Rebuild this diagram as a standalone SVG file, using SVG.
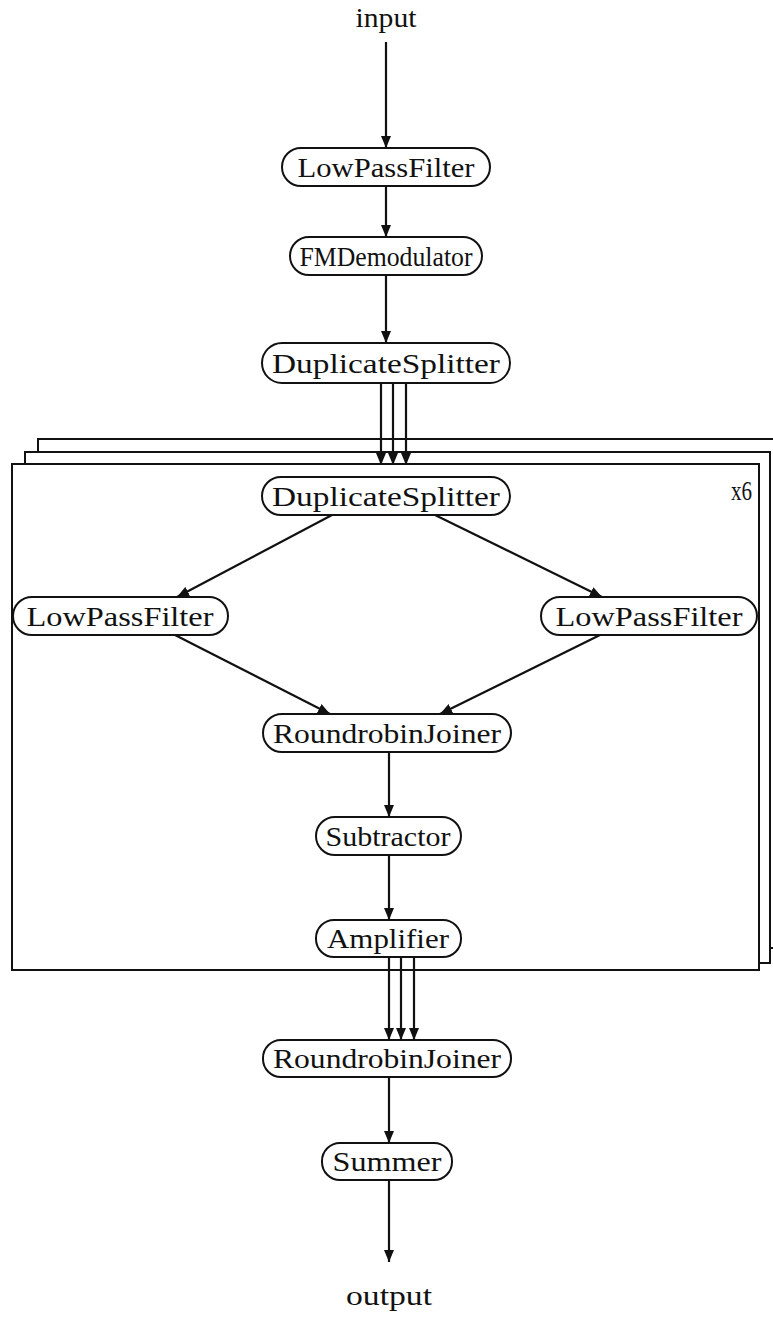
<svg xmlns="http://www.w3.org/2000/svg" width="773" height="1334" viewBox="0 0 773 1334">
<style>
.n{fill:#fff;stroke:#111;stroke-width:2}
.t{font-family:"Liberation Serif","DejaVu Serif",serif;font-size:28px;fill:#111;text-anchor:middle}
.e{stroke:#111;stroke-width:2.2;fill:none;marker-end:url(#ah)}
.f{fill:#fff;stroke:#111;stroke-width:2}
</style>
<defs>
<marker id="ah" viewBox="0 0 12 10" refX="12" refY="5" markerWidth="5.5" markerHeight="4.6" markerUnits="strokeWidth" orient="auto">
<path d="M0,0 L12,5 L0,10 z" fill="#111"/>
</marker>
</defs>
<g id="frames">
<rect class="f" x="38" y="439" width="745" height="509"/>
<rect class="f" x="25" y="452" width="745" height="511"/>
<rect class="f" x="12" y="464" width="747" height="506"/>
<text class="t" x="752" y="500" style="text-anchor:end" textLength="21" lengthAdjust="spacingAndGlyphs">x6</text>
</g>
<g id="connectors">
<line class="e" x1="386" y1="42" x2="386" y2="148"/>
<line class="e" x1="386" y1="186" x2="386" y2="237"/>
<line class="e" x1="386" y1="275" x2="386" y2="343"/>
<line class="e" x1="381" y1="383" x2="381" y2="465"/>
<line class="e" x1="393" y1="383" x2="393" y2="465"/>
<line class="e" x1="406" y1="383" x2="406" y2="465"/>
<line class="e" x1="332" y1="515" x2="177" y2="597"/>
<line class="e" x1="435" y1="515" x2="602" y2="597"/>
<line class="e" x1="175" y1="635" x2="330" y2="714"/>
<line class="e" x1="600" y1="635" x2="440" y2="714"/>
<line class="e" x1="389" y1="752" x2="389" y2="817"/>
<line class="e" x1="389" y1="855" x2="389" y2="920"/>
<line class="e" x1="389" y1="957" x2="389" y2="1040"/>
<line class="e" x1="401" y1="957" x2="401" y2="1040"/>
<line class="e" x1="414" y1="957" x2="414" y2="1040"/>
<line class="e" x1="389" y1="1077" x2="389" y2="1143"/>
<line class="e" x1="389" y1="1180" x2="389" y2="1262"/>
</g>
<g id="input"><text class="t" x="386" y="27" textLength="61" lengthAdjust="spacingAndGlyphs">input</text></g>
<g id="lpf1"><rect class="n" x="282" y="148" width="208" height="38" rx="19"/><text class="t" x="386" y="177" textLength="177" lengthAdjust="spacingAndGlyphs">LowPassFilter</text></g>
<g id="fmd"><rect class="n" x="290" y="237" width="192" height="38" rx="19"/><text class="t" x="386" y="266" textLength="173" lengthAdjust="spacingAndGlyphs">FMDemodulator</text></g>
<g id="dup1"><rect class="n" x="262" y="343" width="248" height="40" rx="20"/><text class="t" x="386" y="373" textLength="228" lengthAdjust="spacingAndGlyphs">DuplicateSplitter</text></g>
<g id="dup2"><rect class="n" x="262" y="477" width="248" height="38" rx="19"/><text class="t" x="386" y="506" textLength="228" lengthAdjust="spacingAndGlyphs">DuplicateSplitter</text></g>
<g id="lpfL"><rect class="n" x="13" y="597" width="215" height="38" rx="19"/><text class="t" x="120" y="626" textLength="187" lengthAdjust="spacingAndGlyphs">LowPassFilter</text></g>
<g id="lpfR"><rect class="n" x="541" y="597" width="216" height="38" rx="19"/><text class="t" x="649" y="626" textLength="187" lengthAdjust="spacingAndGlyphs">LowPassFilter</text></g>
<g id="rrj1"><rect class="n" x="263" y="714" width="248" height="38" rx="19"/><text class="t" x="387" y="743" textLength="228" lengthAdjust="spacingAndGlyphs">RoundrobinJoiner</text></g>
<g id="sub"><rect class="n" x="316" y="817" width="145" height="38" rx="19"/><text class="t" x="388" y="846" textLength="125" lengthAdjust="spacingAndGlyphs">Subtractor</text></g>
<g id="amp"><rect class="n" x="316" y="920" width="145" height="37" rx="18"/><text class="t" x="388" y="948" textLength="122" lengthAdjust="spacingAndGlyphs">Amplifier</text></g>
<g id="rrj2"><rect class="n" x="263" y="1040" width="248" height="37" rx="18"/><text class="t" x="387" y="1068" textLength="228" lengthAdjust="spacingAndGlyphs">RoundrobinJoiner</text></g>
<g id="sum"><rect class="n" x="322" y="1143" width="130" height="37" rx="18"/><text class="t" x="387" y="1171" textLength="109" lengthAdjust="spacingAndGlyphs">Summer</text></g>
<g id="output"><text class="t" x="389" y="1305" textLength="86" lengthAdjust="spacingAndGlyphs">output</text></g>
</svg>
